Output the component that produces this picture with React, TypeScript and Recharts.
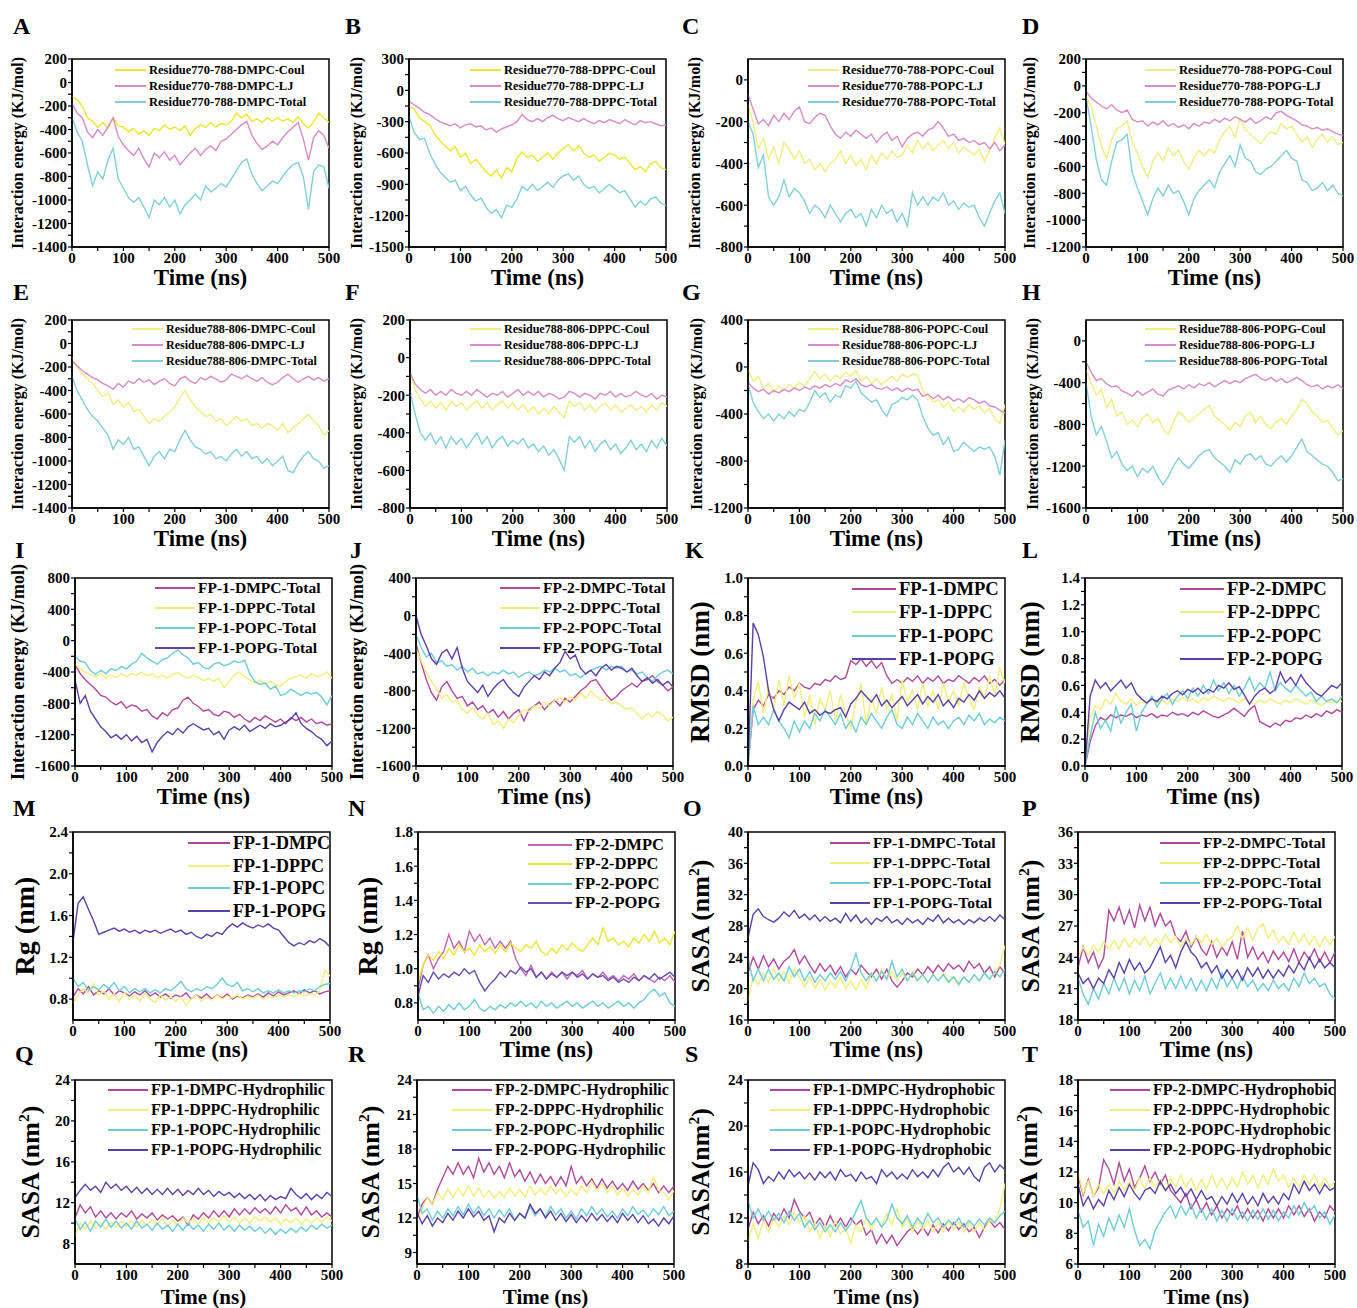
import React from 'react';
import { LineChart, Line, XAxis, YAxis, ReferenceArea } from 'recharts';

// time axis (ns), one sample every 10 ns
const TIME = [0, 10, 20, 30, 40, 50, 60, 70, 80, 90, 100, 110, 120, 130, 140, 150, 160, 170, 180, 190, 200, 210, 220, 230, 240, 250, 260, 270, 280, 290, 300, 310, 320, 330, 340, 350, 360, 370, 380, 390, 400, 410, 420, 430, 440, 450, 460, 470, 480, 490, 500];
const X_TICKS = [0, 50, 100, 150, 200, 250, 300, 350, 400, 450, 500];

// A  Residue770-788-DMPC
const A_COUL = [-120, -150, -200, -300, -330, -380, -340, -390, -300, -370, -380, -420, -390, -440, -410, -450, -390, -410, -360, -400, -380, -410, -370, -450, -390, -360, -380, -340, -380, -350, -360, -330, -260, -300, -270, -330, -310, -340, -300, -330, -300, -330, -310, -340, -290, -350, -390, -340, -260, -300, -340];
const A_LJ = [-180, -260, -300, -420, -470, -400, -450, -380, -300, -460, -530, -580, -620, -560, -650, -720, -600, -640, -590, -660, -620, -700, -650, -600, -560, -620, -570, -540, -580, -500, -480, -440, -400, -360, -330, -450, -520, -570, -540, -500, -530, -470, -420, -380, -340, -480, -660, -470, -410, -450, -560];
const A_TOTAL = [-300, -420, -500, -700, -880, -760, -820, -660, -560, -820, -900, -980, -1020, -980, -1060, -1150, -1000, -1040, -980, -1060, -1000, -1120, -1040, -1000, -950, -1000, -880, -930, -900, -860, -890, -820, -750, -680, -650, -780, -860, -920, -880, -840, -860, -800, -740, -700, -680, -800, -1080, -760, -700, -720, -900];
// B  Residue770-788-DPPC
const B_COUL = [-150, -180, -260, -300, -330, -420, -480, -530, -580, -540, -640, -600, -700, -660, -720, -780, -820, -760, -840, -740, -780, -650, -590, -640, -620, -680, -640, -600, -660, -600, -560, -520, -580, -530, -600, -640, -620, -680, -640, -600, -620, -660, -640, -700, -760, -730, -780, -700, -680, -740, -760];
const B_LJ = [-100, -140, -170, -210, -230, -270, -300, -320, -340, -320, -360, -330, -320, -350, -340, -380, -360, -400, -370, -350, -330, -300, -230, -280, -300, -270, -300, -260, -240, -270, -290, -260, -280, -300, -270, -300, -320, -290, -310, -280, -300, -320, -280, -310, -330, -290, -310, -300, -320, -340, -330];
const B_TOTAL = [-250, -400, -470, -460, -600, -700, -780, -830, -880, -860, -960, -920, -1000, -1060, -1030, -1120, -1180, -1140, -1220, -1100, -1120, -1040, -920, -960, -900, -960, -920, -880, -930, -860, -820, -800, -860, -820, -900, -940, -920, -980, -940, -900, -940, -980, -960, -1040, -1120, -1060, -1100, -1040, -1020, -1080, -1100];
// C  Residue770-788-POPC
const C_COUL = [-120, -200, -330, -280, -380, -320, -400, -300, -330, -380, -340, -400, -380, -430, -400, -440, -400, -380, -340, -400, -360, -410, -380, -430, -360, -400, -350, -380, -340, -370, -360, -310, -350, -290, -330, -300, -340, -310, -290, -330, -300, -350, -320, -340, -360, -330, -390, -340, -280, -230, -310];
const C_LJ = [-70, -140, -210, -190, -220, -170, -200, -160, -190, -150, -130, -200, -210, -180, -160, -170, -220, -260, -280, -250, -270, -240, -260, -280, -260, -300, -270, -250, -290, -270, -320, -280, -260, -250, -270, -240, -230, -200, -230, -270, -260, -290, -280, -300, -290, -310, -300, -330, -300, -340, -310];
const C_TOTAL = [-200, -260, -420, -360, -560, -600, -560, -480, -560, -520, -540, -580, -640, -600, -620, -660, -600, -640, -680, -640, -620, -660, -640, -700, -620, -660, -600, -640, -620, -680, -640, -700, -540, -600, -560, -600, -560, -580, -540, -600, -580, -620, -590, -610, -600, -660, -700, -640, -580, -540, -640];
// D  Residue770-788-POPG
const D_COUL = [-80, -150, -300, -450, -540, -400, -320, -300, -260, -420, -500, -600, -680, -560, -500, -560, -460, -520, -480, -560, -620, -540, -480, -520, -470, -500, -400, -340, -300, -380, -240, -330, -360, -400, -430, -380, -340, -360, -280, -320, -300, -360, -420, -380, -460, -400, -360, -420, -380, -440, -420];
const D_LJ = [-40, -90, -120, -150, -170, -140, -180, -200, -180, -250, -270, -260, -300, -270, -290, -260, -300, -280, -310, -290, -320, -280, -300, -270, -280, -250, -270, -240, -260, -230, -250, -270, -240, -280, -260, -230, -250, -200, -190, -220, -240, -260, -290, -300, -320, -310, -330, -320, -340, -360, -370];
const D_TOTAL = [-80, -300, -550, -700, -740, -560, -420, -400, -360, -650, -760, -860, -960, -840, -760, -820, -740, -800, -780, -860, -960, -840, -780, -740, -700, -760, -640, -580, -520, -600, -440, -540, -560, -640, -660, -620, -600, -560, -520, -480, -540, -560, -700, -720, -780, -760, -720, -780, -740, -800, -820];
// E  Residue788-806-DMPC
const E_COUL = [-120, -200, -260, -300, -340, -400, -450, -420, -520, -480, -540, -500, -580, -560, -620, -680, -640, -660, -620, -580, -540, -460, -400, -480, -540, -580, -620, -600, -660, -640, -700, -660, -620, -660, -640, -700, -680, -720, -680, -700, -740, -680, -760, -720, -680, -640, -600, -660, -700, -780, -740];
const E_LJ = [-150, -190, -230, -260, -290, -310, -340, -360, -390, -340, -370, -320, -340, -300, -330, -310, -350, -320, -300, -340, -360, -300, -280, -320, -340, -290, -310, -280, -300, -330, -310, -260, -280, -300, -270, -300, -320, -290, -330, -350, -330, -290, -260, -300, -330, -300, -280, -310, -290, -320, -300];
const E_TOTAL = [-280, -400, -480, -560, -620, -660, -720, -780, -900, -820, -860, -800, -900, -880, -960, -1040, -960, -920, -980, -900, -920, -820, -740, -820, -880, -900, -940, -920, -980, -960, -1000, -940, -900, -960, -920, -980, -960, -1020, -980, -1040, -1000, -960, -1080, -1100, -1020, -960, -920, -980, -1000, -1060, -1040];
// F  Residue788-806-DPPC
const F_COUL = [-80, -170, -220, -260, -230, -270, -240, -280, -230, -260, -240, -280, -250, -230, -270, -240, -280, -250, -230, -270, -240, -280, -250, -290, -260, -300, -270, -300, -260, -290, -320, -230, -260, -240, -280, -250, -290, -260, -240, -280, -250, -290, -270, -250, -280, -260, -290, -250, -280, -240, -260];
const F_LJ = [-80, -140, -170, -190, -170, -200, -180, -200, -170, -190, -200, -180, -200, -170, -190, -210, -190, -200, -180, -210, -190, -170, -200, -180, -200, -180, -210, -190, -200, -220, -210, -180, -190, -210, -190, -200, -220, -190, -200, -180, -210, -190, -210, -200, -180, -200, -210, -190, -220, -200, -210];
const F_TOTAL = [-180, -300, -400, -440, -400, -460, -420, -480, -420, -460, -430, -480, -440, -400, -460, -420, -480, -440, -420, -470, -440, -460, -430, -480, -460, -500, -470, -520, -490, -540, -600, -420, -450, -420, -480, -440, -500, -460, -440, -490, -460, -510, -480, -440, -490, -460, -500, -440, -480, -430, -470];
// G  Residue788-806-POPC
const G_COUL = [-20, -120, -80, -180, -140, -220, -160, -200, -150, -180, -130, -160, -100, -40, -100, -60, -120, -70, -100, -40, -80, -30, -120, -80, -140, -100, -150, -110, -80, -120, -60, -90, -60, -70, -200, -250, -300, -280, -340, -300, -380, -340, -380, -320, -360, -330, -390, -350, -440, -480, -320];
const G_LJ = [-130, -180, -210, -190, -230, -200, -220, -190, -210, -180, -200, -170, -190, -160, -180, -150, -170, -140, -160, -110, -130, -100, -150, -170, -150, -180, -190, -170, -200, -180, -210, -180, -200, -190, -250, -230, -270, -240, -280, -250, -290, -270, -300, -260, -280, -310, -290, -330, -340, -370, -390];
const G_TOTAL = [-150, -300, -380, -440, -400, -460, -400, -440, -380, -420, -360, -380, -300, -200, -260, -220, -300, -240, -260, -160, -180, -120, -220, -260, -300, -280, -360, -420, -320, -300, -260, -280, -240, -280, -420, -520, -580, -560, -660, -600, -720, -700, -640, -680, -720, -680, -700, -680, -760, -920, -620];
// H  Residue788-806-POPG
const H_COUL = [-280, -400, -520, -460, -640, -560, -720, -680, -800, -760, -820, -740, -700, -780, -740, -840, -900, -780, -680, -720, -780, -740, -700, -660, -620, -720, -760, -800, -860, -780, -820, -720, -680, -780, -720, -800, -840, -780, -740, -800, -720, -660, -560, -600, -680, -720, -780, -760, -840, -900, -860];
const H_LJ = [-200, -300, -380, -360, -410, -440, -430, -480, -500, -530, -480, -520, -490, -460, -510, -530, -470, -450, -430, -460, -420, -450, -410, -430, -400, -440, -410, -380, -410, -380, -400, -360, -340, -320, -360, -380, -350, -390, -360, -400, -380, -350, -380, -420, -440, -420, -460, -430, -450, -420, -460];
const H_TOTAL = [-400, -720, -900, -820, -960, -1120, -1060, -1180, -1240, -1200, -1300, -1220, -1260, -1200, -1300, -1380, -1300, -1200, -1120, -1180, -1220, -1160, -1100, -1060, -1040, -1120, -1160, -1200, -1260, -1140, -1180, -1100, -1080, -1140, -1100, -1180, -1200, -1140, -1100, -1160, -1100, -1020, -940, -1060, -1100, -1140, -1180, -1200, -1260, -1340, -1320];
// I  FP-1 interaction energy
const I_DMPC = [-300, -420, -500, -560, -620, -700, -720, -780, -820, -780, -860, -820, -840, -900, -880, -960, -1000, -920, -960, -880, -860, -760, -720, -800, -840, -900, -880, -940, -960, -900, -920, -980, -940, -1000, -1040, -980, -1020, -960, -1000, -1040, -1000, -1060, -980, -1020, -980, -1040, -1000, -1060, -1040, -1080, -1060];
const I_DPPC = [-300, -360, -400, -430, -460, -420, -480, -440, -470, -420, -460, -420, -440, -400, -450, -420, -470, -440, -480, -430, -410, -450, -480, -440, -470, -510, -480, -520, -480, -600, -520, -440, -400, -460, -500, -540, -500, -560, -520, -560, -580, -520, -480, -460, -440, -480, -420, -460, -440, -400, -480];
const I_POPC = [-200, -260, -280, -380, -430, -380, -420, -360, -380, -330, -360, -300, -260, -160, -220, -260, -300, -240, -220, -160, -120, -180, -220, -300, -280, -340, -360, -300, -280, -320, -300, -260, -280, -250, -420, -520, -560, -540, -620, -580, -700, -680, -620, -660, -700, -660, -680, -660, -720, -820, -700];
const I_POPG = [-500, -800, -700, -900, -1000, -1100, -1160, -1240, -1200, -1260, -1200, -1280, -1220, -1300, -1260, -1420, -1300, -1220, -1160, -1200, -1120, -1180, -1100, -1060, -1100, -1140, -1120, -1200, -1160, -1260, -1140, -1100, -1140, -1080, -1160, -1120, -1080, -1120, -1060, -1100, -1080, -1040, -1000, -920, -1060, -1120, -1160, -1220, -1260, -1340, -1280];
// J  FP-2 interaction energy
const J_DMPC = [-300, -500, -680, -820, -900, -760, -700, -800, -880, -860, -960, -920, -1000, -960, -1040, -1000, -1080, -1020, -1100, -1040, -1000, -1120, -1000, -960, -920, -1000, -940, -900, -960, -880, -920, -860, -800, -760, -700, -680, -760, -840, -900, -860, -800, -760, -720, -760, -700, -680, -640, -700, -740, -800, -760];
const J_DPPC = [-350, -480, -600, -700, -780, -880, -840, -920, -900, -1000, -1040, -980, -1060, -1100, -1040, -1160, -1120, -1200, -1100, -1140, -1060, -1000, -1020, -960, -980, -920, -960, -900, -880, -920, -860, -900, -820, -880, -800, -860, -900, -880, -940, -920, -960, -1000, -980, -1040, -1100, -1040, -1080, -1020, -1060, -1120, -1080];
const J_POPC = [-200, -340, -440, -400, -500, -480, -540, -520, -580, -540, -600, -560, -620, -600, -640, -600, -620, -580, -620, -600, -660, -620, -600, -640, -620, -580, -600, -560, -600, -580, -640, -620, -660, -620, -580, -560, -540, -580, -540, -560, -540, -600, -580, -620, -600, -660, -700, -640, -600, -580, -620];
const J_POPG = [0, -200, -320, -460, -520, -400, -360, -460, -340, -560, -700, -760, -820, -740, -860, -780, -720, -680, -760, -820, -860, -760, -700, -640, -680, -600, -640, -560, -500, -380, -460, -420, -560, -620, -580, -640, -560, -520, -580, -540, -560, -600, -560, -640, -700, -660, -720, -680, -740, -700, -760];
// K  FP-1 RMSD
const K_DMPC = [0.0, 0.30, 0.35, 0.32, 0.38, 0.36, 0.40, 0.38, 0.42, 0.40, 0.44, 0.42, 0.41, 0.44, 0.43, 0.46, 0.45, 0.48, 0.46, 0.47, 0.56, 0.54, 0.57, 0.53, 0.56, 0.52, 0.55, 0.48, 0.44, 0.46, 0.44, 0.47, 0.45, 0.48, 0.44, 0.47, 0.45, 0.48, 0.44, 0.46, 0.45, 0.48, 0.46, 0.44, 0.47, 0.45, 0.48, 0.44, 0.46, 0.43, 0.46];
const K_DPPC = [0.0, 0.35, 0.45, 0.28, 0.42, 0.30, 0.46, 0.32, 0.48, 0.36, 0.44, 0.26, 0.38, 0.22, 0.36, 0.30, 0.40, 0.24, 0.38, 0.28, 0.20, 0.34, 0.44, 0.22, 0.36, 0.28, 0.42, 0.30, 0.38, 0.24, 0.46, 0.34, 0.40, 0.30, 0.44, 0.32, 0.40, 0.30, 0.44, 0.34, 0.40, 0.32, 0.44, 0.36, 0.30, 0.42, 0.36, 0.48, 0.38, 0.52, 0.44];
const K_POPC = [0.0, 0.32, 0.22, 0.26, 0.22, 0.30, 0.24, 0.20, 0.15, 0.24, 0.18, 0.24, 0.20, 0.28, 0.24, 0.30, 0.26, 0.22, 0.28, 0.20, 0.24, 0.18, 0.26, 0.22, 0.28, 0.24, 0.20, 0.26, 0.30, 0.22, 0.20, 0.26, 0.22, 0.28, 0.24, 0.20, 0.26, 0.22, 0.24, 0.20, 0.24, 0.26, 0.22, 0.27, 0.24, 0.28, 0.22, 0.25, 0.23, 0.26, 0.24];
const K_POPG = [0.0, 0.76, 0.70, 0.58, 0.40, 0.30, 0.24, 0.30, 0.34, 0.32, 0.30, 0.34, 0.28, 0.30, 0.27, 0.29, 0.28, 0.30, 0.31, 0.26, 0.33, 0.36, 0.40, 0.37, 0.34, 0.38, 0.32, 0.35, 0.31, 0.34, 0.37, 0.32, 0.35, 0.38, 0.33, 0.37, 0.34, 0.38, 0.32, 0.35, 0.31, 0.36, 0.34, 0.38, 0.35, 0.40, 0.36, 0.39, 0.37, 0.40, 0.36];
// L  FP-2 RMSD
const L_DMPC = [0.0, 0.18, 0.30, 0.36, 0.34, 0.38, 0.36, 0.38, 0.37, 0.39, 0.36, 0.38, 0.37, 0.39, 0.36, 0.38, 0.37, 0.40, 0.38, 0.39, 0.37, 0.40, 0.38, 0.41, 0.39, 0.37, 0.36, 0.38, 0.40, 0.43, 0.40, 0.37, 0.42, 0.45, 0.33, 0.31, 0.29, 0.32, 0.30, 0.34, 0.33, 0.36, 0.35, 0.38, 0.36, 0.39, 0.37, 0.41, 0.39, 0.42, 0.40];
const L_DPPC = [0.0, 0.36, 0.45, 0.42, 0.50, 0.46, 0.54, 0.48, 0.46, 0.50, 0.45, 0.48, 0.46, 0.50, 0.47, 0.49, 0.46, 0.50, 0.48, 0.51, 0.48, 0.50, 0.47, 0.51, 0.49, 0.52, 0.50, 0.48, 0.51, 0.49, 0.47, 0.50, 0.48, 0.46, 0.49, 0.47, 0.50, 0.48, 0.46, 0.49, 0.47, 0.50, 0.48, 0.46, 0.49, 0.47, 0.45, 0.48, 0.47, 0.49, 0.48];
const L_POPC = [0.0, 0.22, 0.40, 0.28, 0.34, 0.26, 0.44, 0.32, 0.40, 0.46, 0.26, 0.40, 0.46, 0.52, 0.44, 0.50, 0.54, 0.46, 0.52, 0.56, 0.50, 0.58, 0.52, 0.60, 0.54, 0.64, 0.56, 0.62, 0.54, 0.60, 0.52, 0.58, 0.66, 0.56, 0.62, 0.58, 0.70, 0.56, 0.62, 0.58, 0.55, 0.60, 0.56, 0.52, 0.55, 0.48, 0.52, 0.48, 0.50, 0.47, 0.52];
const L_POPG = [0.0, 0.52, 0.64, 0.58, 0.62, 0.56, 0.60, 0.64, 0.58, 0.62, 0.54, 0.50, 0.47, 0.50, 0.48, 0.52, 0.50, 0.54, 0.56, 0.53, 0.57, 0.55, 0.58, 0.54, 0.57, 0.55, 0.60, 0.58, 0.62, 0.57, 0.59, 0.53, 0.46, 0.52, 0.56, 0.58, 0.54, 0.57, 0.70, 0.62, 0.66, 0.60, 0.68, 0.62, 0.58, 0.54, 0.52, 0.56, 0.60, 0.58, 0.62];
// M  FP-1 Rg
const M_DMPC = [0.82, 0.90, 0.85, 0.92, 0.84, 0.88, 0.85, 0.90, 0.84, 0.88, 0.86, 0.83, 0.87, 0.84, 0.88, 0.83, 0.86, 0.82, 0.85, 0.81, 0.84, 0.82, 0.86, 0.80, 0.84, 0.81, 0.85, 0.80, 0.84, 0.81, 0.85, 0.80, 0.83, 0.81, 0.84, 0.82, 0.85, 0.82, 0.86, 0.83, 0.87, 0.84, 0.86, 0.88, 0.85, 0.89, 0.86, 0.88, 0.85, 0.87, 0.88];
const M_DPPC = [0.76, 0.84, 0.90, 0.86, 0.95, 0.84, 0.88, 0.80, 0.85, 0.78, 0.86, 0.80, 0.84, 0.78, 0.86, 0.80, 0.77, 0.84, 0.79, 0.82, 0.78, 0.82, 0.74, 0.80, 0.84, 0.78, 0.82, 0.79, 0.84, 0.80, 0.83, 0.81, 0.84, 0.80, 0.83, 0.81, 0.84, 0.80, 0.83, 0.81, 0.84, 0.82, 0.84, 0.82, 0.85, 0.83, 0.85, 0.84, 0.88, 1.08, 1.02];
const M_POPC = [1.00, 0.92, 0.96, 0.88, 0.92, 0.89, 0.94, 0.90, 0.96, 0.88, 0.92, 0.86, 0.90, 0.87, 0.90, 0.86, 0.89, 0.86, 0.90, 0.88, 0.92, 0.97, 0.90, 0.87, 0.90, 0.88, 0.92, 0.90, 0.94, 1.00, 0.94, 0.92, 0.96, 0.88, 0.90, 0.87, 0.90, 0.86, 0.88, 0.86, 0.89, 0.86, 0.88, 0.86, 0.88, 0.87, 0.90, 0.88, 0.92, 0.94, 0.95];
const M_POPG = [1.35, 1.72, 1.78, 1.66, 1.55, 1.42, 1.44, 1.46, 1.48, 1.45, 1.47, 1.44, 1.46, 1.43, 1.46, 1.44, 1.46, 1.43, 1.45, 1.47, 1.44, 1.46, 1.42, 1.44, 1.40, 1.38, 1.42, 1.40, 1.44, 1.42, 1.48, 1.52, 1.49, 1.53, 1.50, 1.48, 1.51, 1.49, 1.52, 1.48, 1.46, 1.40, 1.34, 1.31, 1.34, 1.32, 1.36, 1.34, 1.38, 1.35, 1.30];
// N  FP-2 Rg
const N_DMPC = [0.88, 1.02, 1.08, 1.00, 1.06, 1.10, 1.20, 1.12, 1.16, 1.10, 1.22, 1.16, 1.20, 1.14, 1.18, 1.12, 1.16, 1.12, 1.16, 1.06, 1.00, 0.96, 1.02, 0.95, 0.98, 0.94, 0.98, 0.95, 0.98, 0.94, 0.98, 0.96, 0.99, 0.94, 0.97, 0.95, 0.98, 0.94, 0.96, 0.93, 0.96, 0.94, 0.97, 0.93, 0.96, 0.94, 0.92, 0.95, 0.93, 0.96, 0.92];
const N_DPPC = [0.92, 1.02, 1.08, 1.05, 1.10, 1.06, 1.12, 1.08, 1.14, 1.10, 1.12, 1.08, 1.14, 1.10, 1.13, 1.09, 1.14, 1.10, 1.15, 1.12, 1.10, 1.14, 1.12, 1.16, 1.10, 1.08, 1.12, 1.09, 1.14, 1.11, 1.15, 1.12, 1.10, 1.14, 1.18, 1.14, 1.24, 1.16, 1.18, 1.14, 1.16, 1.13, 1.18, 1.15, 1.20, 1.16, 1.22, 1.15, 1.18, 1.14, 1.22];
const N_POPC = [0.86, 0.76, 0.78, 0.74, 0.78, 0.75, 0.79, 0.76, 0.80, 0.76, 0.78, 0.82, 0.77, 0.75, 0.78, 0.76, 0.79, 0.77, 0.80, 0.78, 0.81, 0.78, 0.80, 0.77, 0.81, 0.78, 0.80, 0.77, 0.79, 0.81, 0.78, 0.80, 0.77, 0.79, 0.81, 0.78, 0.80, 0.77, 0.79, 0.81, 0.78, 0.80, 0.77, 0.80, 0.82, 0.86, 0.88, 0.84, 0.86, 0.80, 0.78];
const N_POPG = [0.84, 0.96, 0.92, 0.98, 0.94, 0.97, 0.95, 0.98, 0.96, 1.00, 0.97, 0.99, 0.92, 0.87, 0.91, 0.94, 0.98, 0.95, 0.99, 0.97, 1.01, 0.98, 1.00, 0.95, 0.98, 0.94, 0.97, 0.95, 0.98, 0.96, 0.98, 0.95, 0.97, 0.94, 0.97, 0.95, 0.96, 0.93, 0.95, 0.92, 0.94, 0.92, 0.95, 0.93, 0.96, 0.94, 0.97, 0.94, 0.96, 0.98, 0.95];
// O  FP-1 SASA total
const O_DMPC = [22.0, 24.0, 22.5, 24.2, 22.8, 23.8, 22.5, 23.5, 24.0, 25.0, 23.2, 24.2, 23.0, 22.0, 23.2, 22.2, 23.0, 21.8, 22.8, 21.5, 22.5, 21.8, 23.0, 22.2, 21.5, 22.5, 21.2, 22.5, 21.0, 20.2, 21.0, 22.0, 21.5, 22.5, 21.8, 22.8, 22.0, 23.0, 22.2, 23.2, 22.5, 23.0, 22.2, 23.5, 22.6, 23.2, 22.0, 22.8, 21.5, 22.8, 22.0];
const O_DPPC = [18.5, 21.5, 20.5, 22.0, 20.8, 22.5, 21.0, 22.2, 20.8, 22.5, 21.5, 20.2, 21.5, 20.0, 21.2, 19.8, 21.0, 20.2, 21.5, 20.0, 21.0, 19.8, 21.2, 20.0, 22.0, 21.0, 22.5, 21.2, 22.2, 21.0, 22.0, 21.0, 22.2, 21.2, 21.8, 20.8, 21.8, 21.0, 22.0, 21.0, 21.5, 20.8, 21.5, 20.8, 21.8, 21.0, 22.0, 21.2, 22.0, 23.0, 25.5];
const O_POPC = [24.0, 21.0, 22.5, 21.0, 22.5, 21.2, 22.0, 21.0, 22.8, 21.5, 22.5, 21.0, 22.2, 20.8, 21.8, 21.0, 22.0, 21.2, 22.2, 21.0, 22.5, 24.5, 22.0, 21.0, 22.0, 21.0, 22.2, 21.2, 23.5, 21.5, 22.5, 21.0, 22.0, 21.0, 21.8, 20.8, 21.8, 21.0, 21.8, 20.8, 21.5, 20.5, 21.5, 20.8, 21.8, 21.0, 22.0, 21.2, 22.2, 21.5, 22.5];
const O_POPG = [26.5, 29.5, 30.2, 29.2, 28.8, 28.5, 29.0, 29.8, 29.2, 30.0, 29.0, 29.5, 28.8, 29.4, 28.6, 29.2, 28.6, 29.0, 28.4, 29.6, 28.6, 29.4, 28.4, 29.0, 28.2, 29.0, 28.6, 29.2, 28.4, 28.8, 28.2, 29.0, 28.4, 28.8, 28.2, 29.0, 28.6, 29.4, 28.4, 29.0, 28.4, 28.8, 28.2, 28.8, 28.4, 29.0, 28.6, 29.2, 28.6, 29.4, 28.8];
// P  FP-2 SASA total
const P_DMPC = [23.0, 25.0, 23.5, 24.5, 23.0, 24.0, 28.5, 27.5, 28.8, 27.2, 28.5, 26.8, 29.0, 27.5, 28.8, 27.0, 28.2, 27.0, 27.5, 26.0, 25.5, 26.5, 25.0, 26.0, 24.8, 24.2, 25.5, 24.0, 25.0, 24.2, 25.5, 23.8, 26.5, 24.0, 25.0, 23.8, 24.5, 23.5, 24.6, 23.8, 24.5, 23.6, 24.8, 23.5, 24.5, 23.8, 24.8, 23.6, 24.5, 23.5, 24.5];
const P_DPPC = [24.0, 25.0, 24.2, 25.2, 24.5, 25.5, 24.8, 25.6, 24.8, 25.8, 25.0, 25.8, 25.2, 26.0, 25.0, 25.8, 25.2, 26.2, 25.4, 26.0, 25.0, 25.8, 25.2, 26.0, 25.4, 26.2, 25.2, 25.8, 25.0, 25.6, 26.0, 27.0, 25.8, 26.8, 25.6, 26.8, 27.2, 25.8, 26.6, 25.4, 26.0, 25.2, 26.4, 25.4, 26.2, 25.2, 26.0, 25.0, 26.0, 25.2, 26.0];
const P_POPC = [22.0, 20.5, 19.5, 21.0, 20.0, 21.5, 20.5, 22.0, 20.8, 22.0, 20.5, 21.8, 20.8, 22.2, 20.5, 21.5, 22.5, 21.0, 22.0, 21.0, 22.2, 21.0, 22.0, 20.8, 21.8, 20.8, 22.0, 21.0, 22.5, 21.2, 22.0, 21.0, 22.2, 21.2, 21.8, 20.8, 21.5, 20.8, 21.8, 21.0, 21.5, 20.8, 22.0, 21.2, 22.5, 21.5, 22.0, 21.2, 21.5, 20.5, 20.0];
const P_POPG = [22.5, 21.5, 22.0, 21.0, 22.0, 21.5, 22.8, 22.0, 23.5, 22.5, 23.8, 22.8, 23.5, 22.5, 23.0, 24.0, 25.0, 23.5, 24.2, 23.0, 24.5, 25.5, 24.5, 24.0, 23.0, 23.5, 22.5, 23.2, 22.0, 22.8, 22.0, 22.8, 21.8, 23.0, 22.2, 23.0, 22.0, 22.8, 22.0, 22.8, 22.2, 23.2, 22.5, 23.5, 22.8, 24.0, 23.0, 23.8, 23.0, 23.5, 23.0];
// Q  FP-1 SASA hydrophilic
const Q_DMPC = [10.5, 11.8, 11.0, 11.6, 10.6, 11.2, 10.5, 11.0, 10.4, 11.0, 10.6, 11.2, 10.4, 10.9, 10.5, 11.0, 10.3, 10.8, 10.4, 10.7, 10.2, 10.6, 9.8, 10.8, 10.4, 11.0, 10.5, 11.2, 10.6, 11.2, 10.6, 11.4, 10.8, 11.4, 10.9, 11.5, 11.0, 11.4, 10.9, 11.6, 11.0, 11.8, 11.2, 11.5, 10.8, 11.6, 10.8, 11.2, 10.6, 11.0, 10.6];
const Q_DPPC = [8.8, 10.0, 9.4, 10.2, 9.5, 10.0, 9.4, 10.1, 9.6, 10.2, 9.7, 10.2, 9.6, 10.3, 9.8, 10.4, 9.8, 10.5, 9.7, 10.3, 9.8, 10.5, 10.0, 10.4, 9.9, 10.6, 10.0, 10.5, 10.1, 10.7, 10.1, 10.6, 10.0, 10.5, 10.0, 10.6, 10.2, 10.6, 10.1, 10.5, 9.9, 10.4, 10.0, 10.5, 9.9, 10.4, 10.0, 10.5, 10.1, 10.6, 10.2];
const Q_POPC = [10.4, 9.4, 10.1, 9.2, 10.2, 9.6, 10.4, 9.6, 10.2, 9.5, 10.0, 9.4, 10.2, 9.5, 9.9, 9.3, 10.0, 9.4, 9.8, 9.2, 9.9, 9.3, 10.0, 9.4, 9.8, 9.2, 9.9, 9.4, 10.0, 9.3, 9.8, 9.2, 9.8, 9.3, 9.7, 9.2, 9.6, 9.0, 9.5, 8.9, 9.4, 9.0, 9.5, 9.1, 9.6, 9.2, 9.8, 9.4, 9.9, 9.5, 9.8];
const Q_POPG = [12.5, 13.2, 13.8, 13.2, 13.6, 13.0, 14.0, 13.4, 13.8, 13.2, 13.6, 13.0, 13.5, 12.9, 13.4, 12.8, 13.3, 12.8, 13.4, 12.8, 13.3, 12.7, 13.2, 12.8, 13.4, 12.8, 13.2, 12.6, 13.1, 12.7, 13.0, 12.5, 12.9, 12.4, 12.8, 12.3, 12.8, 12.2, 12.7, 12.3, 12.6, 12.4, 13.4, 12.8, 12.4, 12.9, 12.3, 12.8, 12.4, 13.0, 12.6];
// R  FP-2 SASA hydrophilic
const R_DMPC = [12.0, 13.2, 13.8, 13.2, 14.5, 15.5, 16.5, 15.8, 16.8, 15.8, 16.5, 15.5, 17.2, 16.0, 16.8, 15.8, 16.5, 15.5, 16.8, 15.6, 16.2, 15.2, 16.0, 15.0, 15.8, 15.0, 15.6, 14.8, 15.6, 14.8, 16.5, 15.0, 15.6, 14.8, 15.4, 14.6, 15.4, 14.6, 15.2, 14.5, 15.0, 14.4, 15.2, 14.5, 15.0, 14.4, 15.0, 14.2, 14.8, 14.2, 14.8];
const R_DPPC = [11.8, 12.8, 13.8, 13.2, 14.2, 13.6, 14.5, 13.8, 14.6, 13.9, 14.8, 13.9, 14.6, 13.8, 14.4, 13.7, 14.3, 13.8, 14.6, 13.9, 14.5, 13.8, 14.8, 14.0, 14.6, 14.0, 14.8, 14.1, 14.6, 13.9, 14.5, 14.0, 14.8, 14.2, 15.2, 14.4, 15.0, 14.2, 14.8, 14.0, 14.6, 13.9, 14.5, 14.0, 14.8, 14.2, 15.6, 14.4, 14.2, 13.6, 14.4];
const R_POPC = [14.0, 12.4, 12.8, 11.8, 12.6, 12.0, 12.8, 12.2, 13.0, 12.3, 13.2, 12.4, 13.0, 12.2, 12.8, 12.0, 12.7, 12.1, 12.8, 11.8, 12.4, 12.0, 13.0, 12.2, 12.8, 12.1, 13.0, 12.3, 12.8, 12.0, 12.6, 11.9, 12.8, 12.2, 13.0, 12.3, 12.8, 12.1, 12.6, 12.0, 12.8, 12.2, 13.0, 12.3, 12.7, 12.1, 12.8, 12.3, 13.0, 12.2, 12.6];
const R_POPG = [12.5, 11.5, 12.2, 11.3, 12.0, 11.6, 12.4, 11.8, 12.6, 12.0, 12.8, 12.1, 12.6, 11.8, 12.2, 10.8, 12.0, 11.6, 12.4, 11.8, 12.4, 12.0, 13.2, 12.4, 12.8, 12.0, 12.6, 11.8, 12.4, 11.7, 12.3, 11.6, 12.2, 11.7, 12.4, 11.8, 12.3, 11.7, 12.2, 11.6, 12.4, 11.8, 12.3, 11.6, 12.2, 11.5, 11.9, 11.3, 12.0, 11.5, 12.2];
// S  FP-1 SASA hydrophobic
const S_DMPC = [11.0, 12.5, 11.5, 12.2, 11.3, 12.4, 11.8, 12.8, 12.0, 13.6, 12.6, 12.0, 12.5, 11.4, 12.0, 11.2, 12.2, 11.3, 12.0, 11.2, 12.0, 11.4, 11.8, 10.5, 11.0, 9.8, 10.6, 9.8, 10.5, 9.6, 10.2, 10.8, 11.2, 10.6, 11.2, 10.5, 11.4, 10.7, 11.5, 10.9, 11.6, 11.0, 11.5, 10.8, 11.2, 10.3, 11.2, 11.8, 11.2, 11.6, 11.0];
const S_DPPC = [10.0, 11.5, 10.2, 11.8, 10.8, 12.0, 11.2, 12.2, 11.4, 12.5, 11.6, 12.2, 10.8, 11.6, 10.2, 11.4, 10.4, 11.8, 10.6, 11.2, 9.8, 11.4, 10.8, 12.0, 11.0, 12.0, 11.2, 12.4, 11.4, 12.8, 11.2, 12.0, 10.8, 11.8, 11.0, 11.8, 10.8, 11.6, 10.8, 11.8, 11.0, 11.6, 10.8, 11.6, 10.8, 11.6, 11.0, 11.8, 11.5, 12.8, 15.0];
const S_POPC = [13.5, 12.0, 12.8, 11.8, 12.6, 11.8, 12.4, 11.6, 12.6, 11.8, 12.4, 11.2, 11.8, 11.0, 11.6, 10.8, 11.4, 10.8, 11.6, 10.9, 11.5, 12.6, 13.5, 12.0, 11.4, 12.0, 11.2, 11.8, 13.2, 12.0, 11.5, 12.2, 11.2, 12.0, 11.4, 12.4, 11.6, 12.0, 11.2, 11.8, 11.4, 12.0, 11.2, 11.8, 11.3, 11.9, 11.4, 12.0, 11.6, 12.2, 12.6];
const S_POPG = [14.8, 16.8, 16.2, 15.0, 15.6, 15.2, 16.0, 15.4, 16.2, 15.6, 16.0, 15.4, 15.9, 15.3, 16.0, 15.5, 16.0, 15.3, 16.2, 15.6, 15.8, 15.2, 16.0, 15.4, 15.6, 15.0, 16.2, 15.6, 16.0, 15.4, 15.8, 15.4, 16.2, 15.6, 16.0, 15.5, 16.2, 15.6, 16.4, 16.8, 16.0, 16.4, 15.8, 16.4, 15.6, 15.2, 16.4, 16.8, 16.0, 16.6, 16.2];
// T  FP-2 SASA hydrophobic
const T_DMPC = [11.8, 10.5, 11.5, 10.4, 11.0, 12.8, 12.2, 11.2, 12.6, 11.4, 12.2, 11.0, 11.6, 12.4, 11.4, 12.0, 11.2, 11.8, 10.8, 10.4, 10.0, 10.6, 9.6, 10.2, 9.4, 10.0, 9.2, 9.8, 9.0, 9.6, 9.2, 9.8, 9.0, 9.6, 9.0, 9.5, 8.8, 9.6, 9.0, 9.6, 9.0, 9.8, 9.2, 9.8, 9.1, 9.6, 8.8, 9.4, 9.0, 9.8, 9.4];
const T_DPPC = [12.0, 10.6, 11.4, 10.4, 11.2, 10.6, 11.2, 10.6, 11.4, 10.8, 11.4, 10.8, 11.6, 10.9, 11.6, 11.0, 11.5, 10.8, 11.6, 11.0, 11.8, 11.0, 11.6, 10.8, 11.5, 10.9, 11.8, 11.0, 11.6, 10.9, 11.6, 11.0, 12.0, 11.2, 11.8, 11.0, 11.8, 11.2, 12.2, 11.4, 11.8, 11.0, 11.6, 11.0, 11.8, 11.2, 11.8, 11.0, 11.6, 11.0, 11.4];
const T_POPC = [9.5, 8.4, 8.8, 7.2, 8.6, 7.8, 9.0, 8.2, 9.2, 8.4, 9.6, 8.2, 7.2, 7.6, 7.0, 8.2, 8.8, 9.4, 9.8, 9.0, 9.8, 9.2, 9.9, 9.0, 9.6, 8.9, 9.6, 8.8, 9.5, 8.8, 9.6, 8.9, 9.4, 8.8, 9.5, 8.9, 9.6, 8.9, 9.5, 8.8, 9.4, 9.0, 9.8, 9.2, 10.0, 9.4, 9.8, 9.0, 9.4, 8.6, 9.2];
const T_POPG = [11.2, 9.8, 10.4, 9.6, 10.2, 9.8, 10.8, 10.2, 11.0, 10.4, 11.2, 10.6, 10.2, 10.8, 11.0, 10.6, 11.4, 10.8, 11.2, 10.6, 11.0, 10.4, 10.9, 10.2, 10.8, 10.2, 10.4, 9.8, 10.4, 9.9, 10.6, 10.0, 10.6, 9.9, 10.4, 9.8, 10.6, 10.0, 10.4, 9.9, 10.6, 10.2, 11.2, 10.6, 11.4, 10.8, 11.2, 10.6, 11.2, 10.8, 11.0];

// colours
const YEL_BRIGHT = '#EDE52E';
const YEL = '#F1ED84';
const PINK = '#D88BC8';
const CYAN = '#82CFDA';
const MAG = '#B0489F';
const YEL2 = '#F2EE7C';
const CYAN2 = '#6ECCD7';
const PURPLE = '#5B3FAA';

const FONT = '"Liberation Serif", "Times New Roman", serif';
const W = 257;
const H = 188;
const PADL = 70;
const PADT = 10;
const PADR = 12;
const PADB = 40;

const ENERGY = 'Interaction energy (KJ/mol)';

type Series = { name: string; data: number[]; color: string };
type PanelDef = {
  id: string; x: number; y: number; h?: number; lx: number; ly: number;
  domain: [number, number]; ticks: number[]; dec: number;
  yl: React.ReactNode; ylOff: number; ylFont: number; tOff: number; tFont?: number;
  legX: number; legY: number; legGap: number; legFont: number; legLine: number;
  series: Series[];
};

const range = (a: number, b: number, s: number) => {
  const out: number[] = [];
  for (let v = a; v <= b + 1e-9; v += s) out.push(Math.round(v * 1000) / 1000);
  return out;
};

const mk = (names: string[], datas: number[][], colors: string[]) =>
  names.map((n, i) => ({ name: n, data: datas[i], color: colors[i] }));

const sasa = <>SASA (nm<sup style={{ fontSize: '0.6em' }}>2</sup>)</>;
const FP4 = [MAG, YEL2, CYAN2, PURPLE];

// bottom row is a little shorter so its axis title stays on the page
const H5 = 184;

const PANELS: PanelDef[] = [
  { id: 'A', x: 72, y: 59, lx: 13, ly: 14, domain: [-1400, 200], ticks: range(-1400, 200, 200), dec: 0, yl: ENERGY, ylOff: 54, ylFont: 16, tOff: 30, legX: 43, legY: 3, legGap: 16, legFont: 12.5, legLine: 31,
    series: mk(['Residue770-788-DMPC-Coul', 'Residue770-788-DMPC-LJ', 'Residue770-788-DMPC-Total'], [A_COUL, A_LJ, A_TOTAL], [YEL_BRIGHT, PINK, CYAN]) },
  { id: 'B', x: 409, y: 59, lx: 345, ly: 14, domain: [-1500, 300], ticks: range(-1500, 300, 300), dec: 0, yl: ENERGY, ylOff: 52, ylFont: 16, tOff: 30, legX: 61, legY: 3, legGap: 16, legFont: 12.5, legLine: 31,
    series: mk(['Residue770-788-DPPC-Coul', 'Residue770-788-DPPC-LJ', 'Residue770-788-DPPC-Total'], [B_COUL, B_LJ, B_TOTAL], [YEL_BRIGHT, PINK, CYAN]) },
  { id: 'C', x: 748, y: 59, lx: 682, ly: 14, domain: [-800, 100], ticks: range(-800, 0, 200), dec: 0, yl: ENERGY, ylOff: 53, ylFont: 16, tOff: 30, legX: 60, legY: 3, legGap: 16, legFont: 12.5, legLine: 31,
    series: mk(['Residue770-788-POPC-Coul', 'Residue770-788-POPC-LJ', 'Residue770-788-POPC-Total'], [C_COUL, C_LJ, C_TOTAL], [YEL, PINK, CYAN]) },
  { id: 'D', x: 1086, y: 59, lx: 1022, ly: 14, domain: [-1200, 200], ticks: range(-1200, 200, 200), dec: 0, yl: ENERGY, ylOff: 56, ylFont: 16, tOff: 30, legX: 59, legY: 3, legGap: 16, legFont: 12.5, legLine: 31,
    series: mk(['Residue770-788-POPG-Coul', 'Residue770-788-POPG-LJ', 'Residue770-788-POPG-Total'], [D_COUL, D_LJ, D_TOTAL], [YEL, PINK, CYAN]) },

  { id: 'E', x: 72, y: 320, lx: 13, ly: 280, domain: [-1400, 200], ticks: range(-1400, 200, 200), dec: 0, yl: ENERGY, ylOff: 54, ylFont: 16, tOff: 30, legX: 60, legY: 1, legGap: 16, legFont: 12, legLine: 31,
    series: mk(['Residue788-806-DMPC-Coul', 'Residue788-806-DMPC-LJ', 'Residue788-806-DMPC-Total'], [E_COUL, E_LJ, E_TOTAL], [YEL, PINK, CYAN]) },
  { id: 'F', x: 410, y: 320, lx: 345, ly: 280, domain: [-800, 200], ticks: range(-800, 200, 200), dec: 0, yl: ENERGY, ylOff: 53, ylFont: 16, tOff: 30, legX: 60, legY: 1, legGap: 16, legFont: 12, legLine: 31,
    series: mk(['Residue788-806-DPPC-Coul', 'Residue788-806-DPPC-LJ', 'Residue788-806-DPPC-Total'], [F_COUL, F_LJ, F_TOTAL], [YEL, PINK, CYAN]) },
  { id: 'G', x: 748, y: 320, lx: 682, ly: 280, domain: [-1200, 400], ticks: range(-1200, 400, 400), dec: 0, yl: ENERGY, ylOff: 51, ylFont: 16, tOff: 30, legX: 60, legY: 1, legGap: 16, legFont: 12, legLine: 31,
    series: mk(['Residue788-806-POPC-Coul', 'Residue788-806-POPC-LJ', 'Residue788-806-POPC-Total'], [G_COUL, G_LJ, G_TOTAL], [YEL, PINK, CYAN]) },
  { id: 'H', x: 1086, y: 320, lx: 1022, ly: 280, domain: [-1600, 200], ticks: range(-1600, 0, 400), dec: 0, yl: ENERGY, ylOff: 53, ylFont: 16, tOff: 30, legX: 59, legY: 1, legGap: 16, legFont: 12, legLine: 31,
    series: mk(['Residue788-806-POPG-Coul', 'Residue788-806-POPG-LJ', 'Residue788-806-POPG-Total'], [H_COUL, H_LJ, H_TOTAL], [YEL, PINK, CYAN]) },

  { id: 'I', x: 75, y: 578, lx: 15, ly: 538, domain: [-1600, 800], ticks: range(-1600, 800, 400), dec: 0, yl: ENERGY, ylOff: 57, ylFont: 18, tOff: 30, legX: 80, legY: 0, legGap: 20, legFont: 15.5, legLine: 40,
    series: mk(['FP-1-DMPC-Total', 'FP-1-DPPC-Total', 'FP-1-POPC-Total', 'FP-1-POPG-Total'], [I_DMPC, I_DPPC, I_POPC, I_POPG], FP4) },
  { id: 'J', x: 416, y: 578, lx: 350, ly: 538, domain: [-1600, 400], ticks: range(-1600, 400, 400), dec: 0, yl: ENERGY, ylOff: 59, ylFont: 18, tOff: 30, legX: 84, legY: 0, legGap: 20, legFont: 15.5, legLine: 40,
    series: mk(['FP-2-DMPC-Total', 'FP-2-DPPC-Total', 'FP-2-POPC-Total', 'FP-2-POPG-Total'], [J_DMPC, J_DPPC, J_POPC, J_POPG], FP4) },
  { id: 'K', x: 748, y: 578, lx: 685, ly: 538, domain: [0, 1.0], ticks: range(0, 1.0, 0.2), dec: 1, yl: 'RMSD (nm)', ylOff: 48, ylFont: 27, tOff: 30, legX: 104, legY: -1, legGap: 23.5, legFont: 18.5, legLine: 44,
    series: mk(['FP-1-DMPC', 'FP-1-DPPC', 'FP-1-POPC', 'FP-1-POPG'], [K_DMPC, K_DPPC, K_POPC, K_POPG], FP4) },
  { id: 'L', x: 1085, y: 578, lx: 1022, ly: 538, domain: [0, 1.4], ticks: range(0, 1.4, 0.2), dec: 1, yl: 'RMSD (nm)', ylOff: 55, ylFont: 27, tOff: 30, legX: 95, legY: -1, legGap: 23.5, legFont: 18.5, legLine: 44,
    series: mk(['FP-2-DMPC', 'FP-2-DPPC', 'FP-2-POPC', 'FP-2-POPG'], [L_DMPC, L_DPPC, L_POPC, L_POPG], FP4) },

  { id: 'M', x: 73, y: 832, lx: 13, ly: 796, domain: [0.6, 2.4], ticks: range(0.8, 2.4, 0.4), dec: 1, yl: 'Rg (nm)', ylOff: 48, ylFont: 28, tOff: 29, legX: 115, legY: 0, legGap: 22.5, legFont: 18, legLine: 42,
    series: mk(['FP-1-DMPC', 'FP-1-DPPC', 'FP-1-POPC', 'FP-1-POPG'], [M_DMPC, M_DPPC, M_POPC, M_POPG], FP4) },
  { id: 'N', x: 418, y: 832, lx: 348, ly: 796, domain: [0.7, 1.8], ticks: range(0.8, 1.8, 0.2), dec: 1, yl: 'Rg (nm)', ylOff: 50, ylFont: 28, tOff: 29, legX: 110, legY: 3, legGap: 19.5, legFont: 16.5, legLine: 44,
    series: mk(['FP-2-DMPC', 'FP-2-DPPC', 'FP-2-POPC', 'FP-2-POPG'], [N_DMPC, N_DPPC, N_POPC, N_POPG], ['#C264B4', '#EDE53A', CYAN2, '#6A4CB2']) },
  { id: 'O', x: 748, y: 832, lx: 683, ly: 796, domain: [16, 40], ticks: range(16, 40, 4), dec: 0, yl: sasa, ylOff: 48, ylFont: 26, tOff: 29, legX: 82, legY: 1, legGap: 20, legFont: 15.5, legLine: 40,
    series: mk(['FP-1-DMPC-Total', 'FP-1-DPPC-Total', 'FP-1-POPC-Total', 'FP-1-POPG-Total'], [O_DMPC, O_DPPC, O_POPC, O_POPG], FP4) },
  { id: 'P', x: 1078, y: 832, lx: 1022, ly: 796, domain: [18, 36], ticks: range(18, 36, 3), dec: 0, yl: sasa, ylOff: 48, ylFont: 26, tOff: 29, legX: 82, legY: 1, legGap: 20, legFont: 15.5, legLine: 40,
    series: mk(['FP-2-DMPC-Total', 'FP-2-DPPC-Total', 'FP-2-POPC-Total', 'FP-2-POPG-Total'], [P_DMPC, P_DPPC, P_POPC, P_POPG], FP4) },

  { id: 'Q', x: 75, y: 1080, h: H5, lx: 15, ly: 1042, domain: [6, 24], ticks: range(8, 24, 4), dec: 0, yl: sasa, ylOff: 45, ylFont: 26, tOff: 33, tFont: 21, legX: 33, legY: 0, legGap: 20, legFont: 16, legLine: 40,
    series: mk(['FP-1-DMPC-Hydrophilic', 'FP-1-DPPC-Hydrophilic', 'FP-1-POPC-Hydrophilic', 'FP-1-POPG-Hydrophilic'], [Q_DMPC, Q_DPPC, Q_POPC, Q_POPG], FP4) },
  { id: 'R', x: 417, y: 1080, h: H5, lx: 348, ly: 1042, domain: [8, 24], ticks: range(9, 24, 3), dec: 0, yl: sasa, ylOff: 47, ylFont: 26, tOff: 33, tFont: 21, legX: 35, legY: 0, legGap: 20, legFont: 16, legLine: 40,
    series: mk(['FP-2-DMPC-Hydrophilic', 'FP-2-DPPC-Hydrophilic', 'FP-2-POPC-Hydrophilic', 'FP-2-POPG-Hydrophilic'], [R_DMPC, R_DPPC, R_POPC, R_POPG], FP4) },
  { id: 'S', x: 748, y: 1080, h: H5, lx: 685, ly: 1042, domain: [8, 24], ticks: range(8, 24, 4), dec: 0, yl: <>SASA(nm<sup style={{ fontSize: '0.6em' }}>2</sup>)</>, ylOff: 48, ylFont: 26, tOff: 33, tFont: 21, legX: 22, legY: 0, legGap: 20, legFont: 16, legLine: 40,
    series: mk(['FP-1-DMPC-Hydrophobic', 'FP-1-DPPC-Hydrophobic', 'FP-1-POPC-Hydrophobic', 'FP-1-POPG-Hydrophobic'], [S_DMPC, S_DPPC, S_POPC, S_POPG], FP4) },
  { id: 'T', x: 1078, y: 1080, h: H5, lx: 1022, ly: 1042, domain: [6, 18], ticks: range(6, 18, 2), dec: 0, yl: sasa, ylOff: 50, ylFont: 26, tOff: 33, tFont: 21, legX: 32, legY: 0, legGap: 20, legFont: 16, legLine: 40,
    series: mk(['FP-2-DMPC-Hydrophobic', 'FP-2-DPPC-Hydrophobic', 'FP-2-POPC-Hydrophobic', 'FP-2-POPG-Hydrophobic'], [T_DMPC, T_DPPC, T_POPC, T_POPG], FP4) },
];

const tickStyle = { fontSize: 15, fontWeight: 700, fill: '#000', fontFamily: FONT };

function Panel({ p }: { p: PanelDef }) {
  const h = p.h ?? H;
  const rows = TIME.map((t, i) => {
    const r: Record<string, number> = { t };
    p.series.forEach((s, k) => { r['s' + k] = s.data[i]; });
    return r;
  });
  // minor ticks half way between the labelled ones
  const step = p.ticks[1] - p.ticks[0];
  const yTicks: number[] = [];
  p.ticks.forEach((v, i) => {
    yTicks.push(v);
    if (i < p.ticks.length - 1) yTicks.push(Math.round((v + step / 2) * 1000) / 1000);
  });
  const isMajor = (v: number) => p.ticks.some(m => Math.abs(m - v) < 1e-6);

  return (
    <>
      <div style={{ position: 'absolute', left: p.lx, top: p.ly, fontFamily: FONT, fontWeight: 700, fontSize: 24, lineHeight: 1 }}>{p.id}</div>
      <div style={{ position: 'absolute', left: p.x - PADL, top: p.y - PADT }}>
        <LineChart width={PADL + W + PADR} height={PADT + h + PADB} data={rows}
          margin={{ top: PADT, right: PADR, bottom: 0, left: 0 }}>
          <XAxis dataKey="t" type="number" domain={[0, 500]} ticks={X_TICKS} interval={0}
            tickFormatter={(v: number) => (v % 100 === 0 ? String(v) : '')}
            height={PADB} tick={tickStyle} tickSize={4} tickMargin={1}
            axisLine={{ stroke: '#000', strokeWidth: 1.5 }} tickLine={{ stroke: '#000', strokeWidth: 1.2 }} allowDataOverflow />
          <YAxis type="number" domain={p.domain} ticks={yTicks} interval={0}
            tickFormatter={(v: number) => (isMajor(v) ? v.toFixed(p.dec) : '')}
            width={PADL} tick={tickStyle} tickSize={4} tickMargin={1}
            axisLine={{ stroke: '#000', strokeWidth: 1.5 }} tickLine={{ stroke: '#000', strokeWidth: 1.2 }} allowDataOverflow />
          <ReferenceArea x1={0} x2={500} y1={p.domain[0]} y2={p.domain[1]} fill="none" stroke="#000" strokeWidth={1.5} />
          {p.series.map((s, k) => (
            <Line key={s.name} dataKey={'s' + k} type="linear" stroke={s.color} strokeWidth={1.4}
              dot={false} isAnimationActive={false} />
          ))}
        </LineChart>
      </div>
      {/* y-axis title */}
      <div style={{
        position: 'absolute', left: p.x - p.ylOff, top: p.y + h / 2,
        transform: 'translate(-50%, -50%) rotate(-90deg)', whiteSpace: 'nowrap',
        fontFamily: FONT, fontWeight: 700, fontSize: p.ylFont, lineHeight: 1,
      }}>{p.yl}</div>
      {/* x-axis title */}
      <div style={{
        position: 'absolute', left: p.x + W / 2, top: p.y + h + p.tOff,
        transform: 'translate(-50%, -50%)', whiteSpace: 'nowrap',
        fontFamily: FONT, fontWeight: 700, fontSize: p.tFont ?? 23, lineHeight: 1,
      }}>Time (ns)</div>
      {/* legend */}
      <div style={{ position: 'absolute', left: p.x + p.legX, top: p.y + p.legY }}>
        {p.series.map(s => (
          <div key={s.name} style={{ display: 'flex', alignItems: 'center', height: p.legGap, whiteSpace: 'nowrap' }}>
            <span style={{ display: 'inline-block', width: p.legLine, height: 2, background: s.color, marginRight: 3 }} />
            <span style={{ fontFamily: FONT, fontWeight: 700, fontSize: p.legFont, lineHeight: 1 }}>{s.name}</span>
          </div>
        ))}
      </div>
    </>
  );
}

export default function App() {
  return (
    <div style={{ position: 'absolute', left: 0, top: 0, width: 1357, height: 1308, background: '#fff', overflow: 'hidden' }}>
      {PANELS.map(p => <Panel key={p.id} p={p} />)}
    </div>
  );
}
